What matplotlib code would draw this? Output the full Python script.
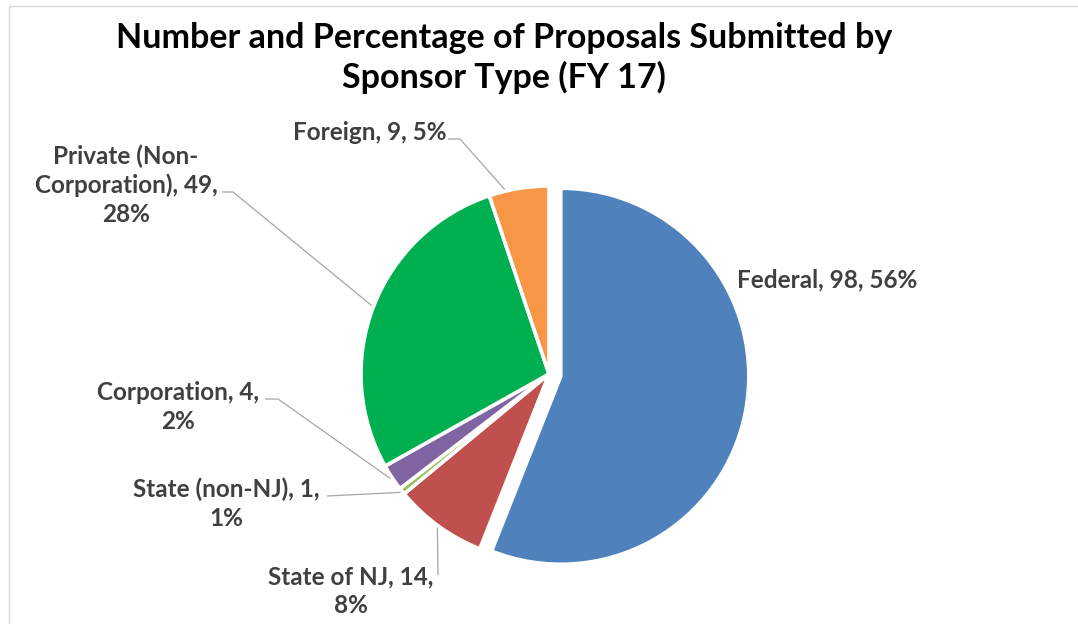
import matplotlib
matplotlib.use("Agg")
import matplotlib.pyplot as plt
import numpy as np
from matplotlib.patches import Rectangle

# ---------------- data ----------------
categories = ["Federal", "State of NJ", "State (non-NJ)", "Corporation",
              "Private (Non-Corporation)", "Foreign"]
counts = [98, 14, 1, 4, 49, 9]
colors = ["#4F81BD", "#C0504D", "#9BBB59", "#8064A2", "#00B050", "#F79646"]
title = "Number and Percentage of Proposals Submitted by\nSponsor Type (FY 17)"

# ---------------- layout ----------------
W, H = 1078, 624
FONT = ["Lato", "DejaVu Sans"]
TXT = "#404040"
LEAD = "#A6A6A6"

def Y(y):  # screen y (top-down) -> axes y (bottom-up)
    return H - y

total = sum(counts)
pcts = [round(100 * c / total) for c in counts]

# label break formats
fmts = ["{c}, {n}, {p}%",
        "{c}, {n},\n{p}%",
        "{c}, {n},\n{p}%",
        "{c}, {n},\n{p}%",
        "{c}, {n},\n{p}%",
        "{c}, {n}, {p}%"]
cat_disp = [c.replace("(Non-", "(Non-\n") for c in categories]
labels = [f.format(c=c, n=n, p=p) for f, c, n, p in zip(fmts, cat_disp, counts, pcts)]

# label anchor (screen px), alignment
lab_pos = [(737, 280, "left"), (351, 591, "center"), (226, 504, "center"),
           (178, 407, "center"), (126, 185, "center"), (370, 133, "center")]
# leader start points (screen px) and elbow points; None -> no leader
lead_start = [None, (438, 575), (327, 496), (265, 399), (222, 192), (448, 139)]
lead_elbow = [None, None, None, (278, 399), (233, 192), (460, 139)]
arc_frac = [0.5, 0.5, 0.5, 0.5, 0.5, 0.73]

fig = plt.figure(figsize=(W / 100, H / 100), dpi=100)
ax = fig.add_axes([0, 0, 1, 1])

cx, cy, R = 549, Y(374), 188
explode_frac = [0.064, 0, 0, 0, 0, 0]
wedges, _ = ax.pie(counts, colors=colors, startangle=90, counterclock=False,
                   radius=R, center=(cx, cy),
                   explode=[e * R for e in explode_frac], frame=True,
                   wedgeprops=dict(edgecolor="white", linewidth=2.6))
ax.set_xlim(0, W)
ax.set_ylim(0, H)
ax.set_aspect("auto")
ax.axis("off")

# chart border
ax.add_patch(Rectangle((9, -20), W + 40, Y(6) + 20, fill=False,
                       edgecolor="#D9D9D9", linewidth=1.0, clip_on=False))

# title
ax.text(504, Y(58), title, ha="center", va="center", fontsize=24.5,
        fontweight="bold", family=FONT, color="#000000", linespacing=1.25)

# labels and leaders
for i, w in enumerate(wedges):
    x, y, ha = lab_pos[i]
    ax.text(x, Y(y), labels[i], ha=ha, va="center", multialignment="center",
            fontsize=17.5, fontweight="bold", family=FONT, color=TXT,
            linespacing=1.3)
    if lead_start[i] is not None:
        ang = np.deg2rad(w.theta1 + arc_frac[i] * (w.theta2 - w.theta1))
        wx, wy = w.center
        ex = wx + 1.01 * w.r * np.cos(ang)
        ey = wy + 1.01 * w.r * np.sin(ang)
        pts = [lead_start[i]]
        if lead_elbow[i] is not None:
            pts.append(lead_elbow[i])
        xs = [p[0] for p in pts] + [ex]
        ys = [Y(p[1]) for p in pts] + [ey]
        ax.plot(xs, ys, color=LEAD, linewidth=0.9, solid_capstyle="butt")

fig.savefig("out.png", dpi=100)
